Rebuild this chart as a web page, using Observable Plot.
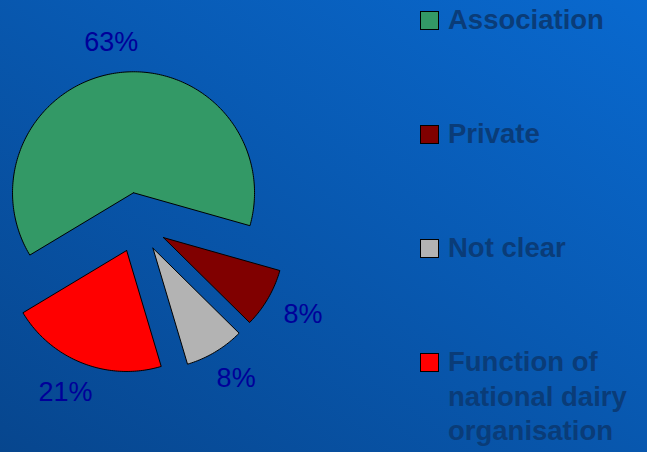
<!DOCTYPE html>
<html>
<head>
<meta charset="utf-8">
<script src="https://cdn.jsdelivr.net/npm/d3@7"></script>
<script src="https://cdn.jsdelivr.net/npm/@observablehq/plot@0.6"></script>
<style>
  html, body { margin: 0; padding: 0; }
  #wrap {
    position: relative; width: 647px; height: 452px; overflow: hidden;
    background: linear-gradient(to bottom left, #0969cf, #07468e);
    font-family: "Liberation Sans", Arial, sans-serif;
  }
  #chart { position: absolute; left: 0; top: 0; }
  #legend { position: absolute; left: 420px; top: 0; width: 225px; }
  .item { position: absolute; left: 0; width: 225px; }
  .sw { position: absolute; left: 0; width: 17px; height: 17px; border: 1.5px solid #000; }
  .lt { position: absolute; left: 28px; width: 196px; font-weight: bold; font-size: 27.5px;
        line-height: 34.5px; color: #0a3c78; }
</style>
</head>
<body>
<div id="wrap">
  <div id="chart"></div>
  <div id="legend"></div>
</div>
<script>
// ---- data ----
const categories = ["Association", "Private", "Not clear", "Function of national dairy organisation"];
const values = [63, 8, 8, 21];
const valueLabels = ["63%", "8%", "8%", "21%"];
const colors = ["#339966", "#800000", "#b3b3b3", "#ff0000"];

// ---- layout ----
const W = 647, H = 452;
const cx = 137, cy = 222, rPx = 121;       // pie centre / radius (pixels)
const explodePx = 30, labelRPx = 172;
const startDeg = 239;

const xDomain = [-cx / rPx, (W - cx) / rPx];
const yDomain = [-(H - cy) / rPx, cy / rPx];

const pie = d3.pie().sort(null).value(d => d.value)
  .startAngle(startDeg * Math.PI / 180)
  .endAngle(startDeg * Math.PI / 180 + 2 * Math.PI);
const table = categories.map((c, i) => ({name: c, value: values[i], label: valueLabels[i], color: colors[i]}));
const arcs = pie(table);

const poly = [];
arcs.forEach(a => {
  const m = (a.startAngle + a.endAngle) / 2;
  const ox = Math.sin(m) * explodePx / rPx, oy = Math.cos(m) * explodePx / rPx;
  const pts = [{x: ox, y: oy}];
  const n = Math.max(2, Math.ceil((a.endAngle - a.startAngle) / (Math.PI / 180)));
  for (let k = 0; k <= n; k++) {
    const t = a.startAngle + (a.endAngle - a.startAngle) * k / n;
    pts.push({x: ox + Math.sin(t), y: oy + Math.cos(t)});
  }
  pts.push({x: ox, y: oy});
  pts.forEach(p => poly.push({...p, name: a.data.name, color: a.data.color}));
});

const fs = 27;
const ctx = document.createElement("canvas").getContext("2d");
ctx.font = `${fs}px "Liberation Sans", Arial, sans-serif`;
const labelPts = arcs.map(a => {
  const m = (a.startAngle + a.endAngle) / 2;
  const w = ctx.measureText(a.data.label).width, h = fs * 0.75;
  const px = Math.sin(m) * labelRPx + Math.sin(m) * w / 2;
  const py = Math.cos(m) * labelRPx + Math.cos(m) * h / 2;
  return {x: px / rPx, y: py / rPx, label: a.data.label};
});

const plot = Plot.plot({
  width: W, height: H, margin: 0,
  x: {domain: xDomain, axis: null},
  y: {domain: yDomain, axis: null},
  color: {type: "identity"},
  style: {background: "transparent"},
  marks: [
    Plot.line(poly, {x: "x", y: "y", z: "name", fill: "color", stroke: "#000", strokeWidth: 1, curve: "linear", strokeLinejoin: "miter"}),
    Plot.text(labelPts, {x: "x", y: "y", text: "label", fill: "#000099", fontSize: fs,
      fontFamily: "Liberation Sans, Arial, sans-serif"})
  ]
});
document.getElementById("chart").appendChild(plot);

// ---- legend ----
const legendTops = [0, 114, 228, 342];
const leg = document.getElementById("legend");
table.forEach((d, i) => {
  const it = document.createElement("div");
  it.className = "item";
  it.style.top = (legendTops[i]) + "px";
  it.innerHTML = `<div class="sw" style="top:10.5px;background:${d.color}"></div><div class="lt" style="top:3px">${d.name}</div>`;
  leg.appendChild(it);
});
</script>
</body>
</html>
